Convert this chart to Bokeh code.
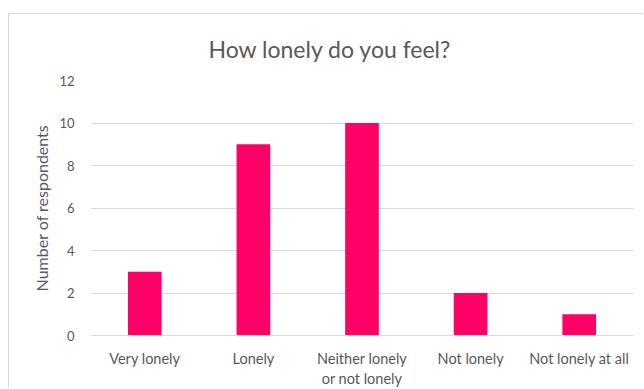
from bokeh.plotting import figure
from bokeh.models import ColumnDataSource, Range1d, FixedTicker
from bokeh.embed import file_html
from bokeh.resources import INLINE

# Survey answers and counts
categories = ["Very lonely", "Lonely", "Neither lonely\nor not lonely", "Not lonely", "Not lonely at all"]
respondents = [3, 9, 10, 2, 1]
y_ticks = [0, 2, 4, 6, 8, 10, 12]

TEXT = "#595959"
GRID = "#d9d9d9"
BAR = "#FF0066"
FONT = "Lato"

source = ColumnDataSource(data=dict(cat=categories, n=respondents))

p = figure(
    x_range=categories,
    y_range=Range1d(0, 12),
    width=635,
    height=375,
    output_backend="svg",
    toolbar_location=None,
    min_border_left=81,
    min_border_right=11,
    min_border_top=66,
    min_border_bottom=52,
    title="How lonely do you feel?",
)
p.margin = (13, 0, 0, 8)
p.styles = {"border-left": f"1px solid {GRID}", "border-top": f"1px solid {GRID}"}

p.vbar(x="cat", top="n", width=0.31, source=source, color=BAR, line_color=None)

# Title
p.title.align = "left"
p.title.offset = 118
p.title.text_font = FONT
p.title.text_font_size = "23px"
p.title.text_font_style = "normal"
p.title.text_color = TEXT
p.title.standoff = 36

# Axes
p.yaxis.ticker = FixedTicker(ticks=y_ticks)
p.yaxis.axis_label = "Number of respondents"
p.yaxis.axis_label_text_font = FONT
p.yaxis.axis_label_text_font_size = "16px"
p.yaxis.axis_label_text_font_style = "normal"
p.yaxis.axis_label_text_color = TEXT
p.yaxis.axis_label_standoff = 5
p.yaxis.axis_line_color = None

for ax in (p.xaxis, p.yaxis):
    ax.major_tick_line_color = None
    ax.minor_tick_line_color = None
    ax.major_label_text_font = FONT
    ax.major_label_text_color = TEXT

p.yaxis.major_label_text_font_size = "13px"
p.xaxis.major_label_text_font_size = "14.5px"
p.yaxis.major_label_standoff = 10
p.xaxis.major_label_standoff = 8
p.xaxis.axis_line_color = GRID
p.xaxis.axis_line_width = 1

p.xgrid.grid_line_color = None
p.ygrid.grid_line_color = GRID
p.ygrid.grid_line_width = 1
p.outline_line_color = None
p.x_range.range_padding = 0

open("out.html", "w").write(file_html(p, INLINE))
